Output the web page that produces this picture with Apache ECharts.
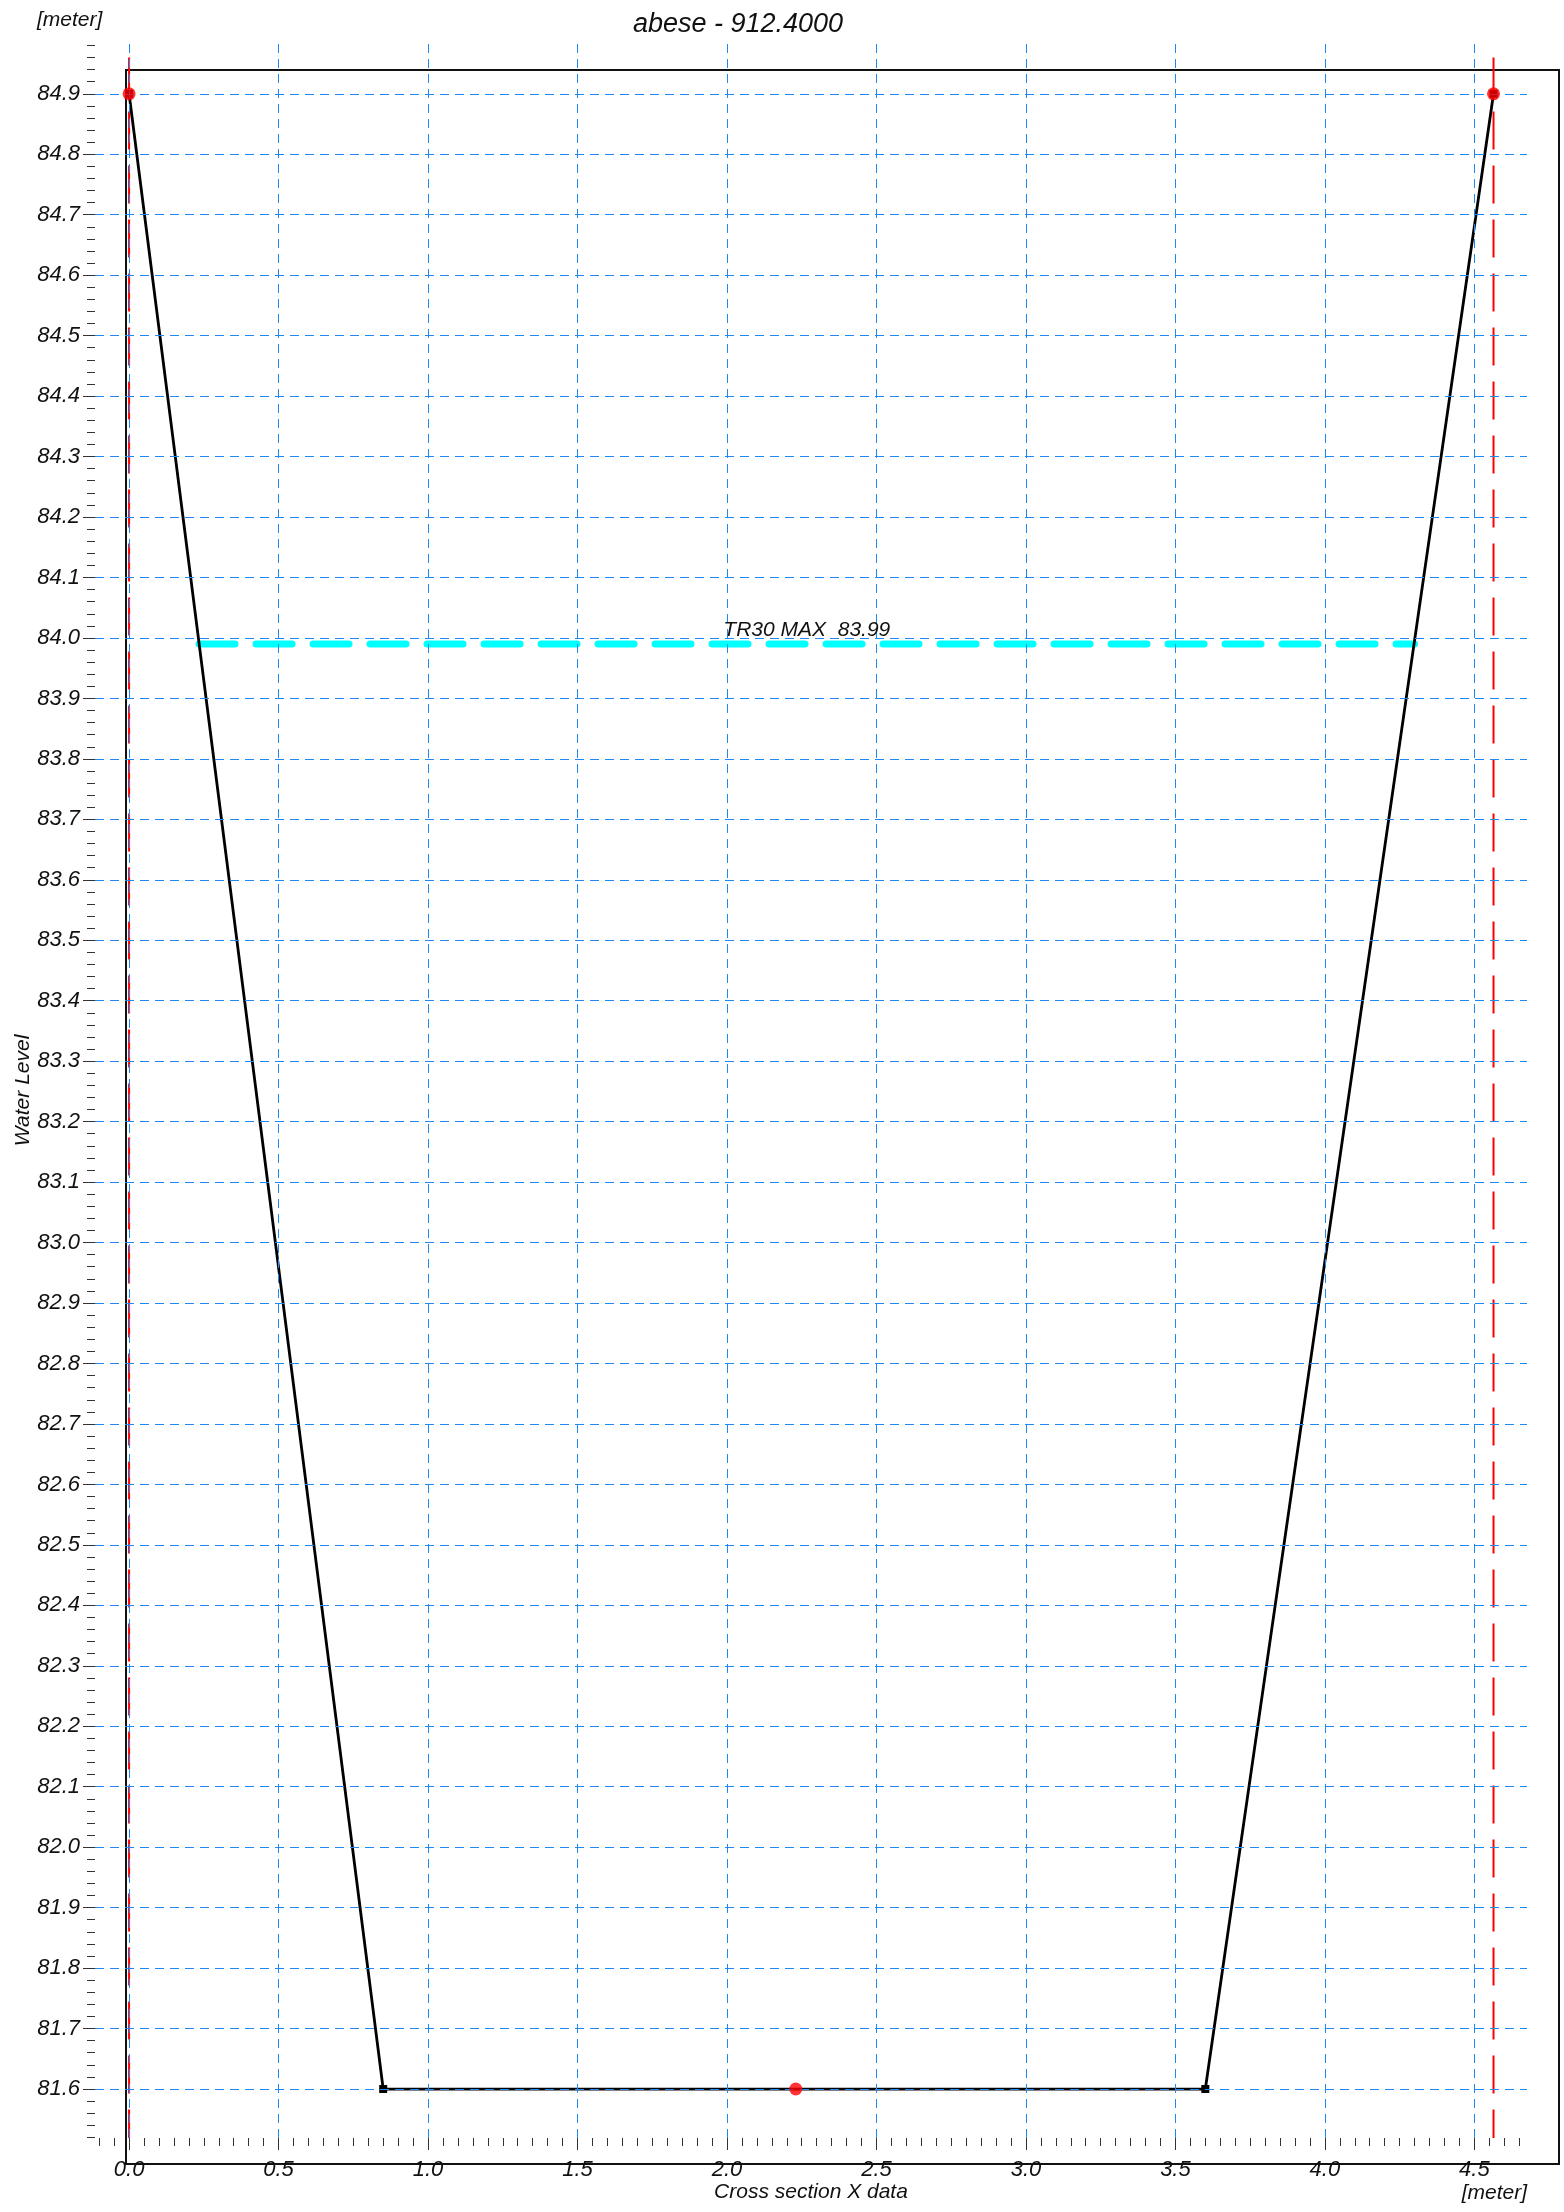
<!DOCTYPE html>
<html>
<head>
<meta charset="utf-8">
<title>abese - 912.4000</title>
<script src="https://cdn.jsdelivr.net/npm/echarts@6/dist/echarts.min.js"></script>
<style>
    html, body { margin: 0; padding: 0; background: #fff; }
    #main { width: 1564px; height: 2212px; }
</style>
</head>
<body>
<div id="main"></div>
<script>
// 断面数据
const profileX = [0, 0.85, 3.60, 4.564];
const profileY = [84.9, 81.6, 81.6, 84.9];

// 红点：左岸、最低点、右岸
const markerX = [0, 2.23, 4.564];
const markerY = [84.9, 81.6, 84.9];

// 岸线（红色虚线）
const bankX = [0, 4.564];
const bankTop = 84.96;

// 水位
const waterLevel = 83.99;
const waterX = [0.234, 4.30];
const waterLabel = 'TR30 MAX  83.99';

// 坐标轴范围与刻度
const xMin = -0.114, xMax = 4.676;
const yMin = 81.519, yMax = 84.984;
const xMajorTicks = [0, 0.5, 1.0, 1.5, 2.0, 2.5, 3.0, 3.5, 4.0, 4.5];
const yMajorTicks = [81.6, 81.7, 81.8, 81.9, 82.0, 82.1, 82.2, 82.3, 82.4, 82.5, 82.6,
    82.7, 82.8, 82.9, 83.0, 83.1, 83.2, 83.3, 83.4, 83.5, 83.6, 83.7, 83.8, 83.9,
    84.0, 84.1, 84.2, 84.3, 84.4, 84.5, 84.6, 84.7, 84.8, 84.9];

// 小刻度
const xMinorTicks = [];
for (let i = -2; i <= 93; i++) xMinorTicks.push(+(i * 0.05).toFixed(2));
const yMinorTicks = [];
for (let i = 4076; i <= 4249; i++) yMinorTicks.push(+(i * 0.02).toFixed(2));

const FONT = 'Liberation Sans';
const labelStyle = { fontFamily: FONT, fontStyle: 'italic', fontSize: 22, color: '#111' };
const gridLine = { color: '#1E88F5', width: 1, type: [9, 6] };

const chart = echarts.init(document.getElementById('main'));

const series = [];

// 网格线
series.push({
    type: 'line',
    data: [],
    z: 1,
    silent: true,
    markLine: {
        silent: true,
        symbol: 'none',
        animation: false,
        label: { show: false },
        lineStyle: gridLine,
        emphasis: { disabled: true },
        data: yMajorTicks.map(v => ({ yAxis: v })).concat(xMajorTicks.map(v => ({ xAxis: v })))
    }
});

// 岸线
bankX.forEach(x => {
    series.push({
        type: 'line',
        data: [[x, bankTop], [x, yMin]],
        symbol: 'none',
        z: 3,
        silent: true,
        lineStyle: { color: '#ff0000', width: 2, type: [38, 16] }
    });
});

// 水位线
series.push({
    type: 'line',
    data: waterX.map(x => [x, waterLevel]),
    symbol: 'none',
    z: 3,
    silent: true,
    lineStyle: { color: '#00ffff', width: 7, type: [36, 21], cap: 'round' },
    markLine: {
        silent: true,
        symbol: 'none',
        animation: false,
        lineStyle: { color: 'rgba(0,0,0,0)', width: 1, type: 'solid' },
        label: {
            show: true,
            position: 'insideMiddleTop',
            distance: 3,
            formatter: waterLabel,
            fontFamily: FONT,
            fontStyle: 'italic',
            fontSize: 21,
            color: '#111'
        },
        data: [[{ coord: [waterX[0], waterLevel] }, { coord: [waterX[1], waterLevel] }]]
    }
});

// 断面
series.push({
    type: 'line',
    data: profileX.map((x, i) => [x, profileY[i]]),
    symbol: 'rect',
    symbolSize: 8,
    showAllSymbol: true,
    z: 4,
    silent: true,
    itemStyle: { color: '#000' },
    lineStyle: { color: '#000', width: 2.8 }
});

// 红点
series.push({
    type: 'scatter',
    data: markerX.map((x, i) => [x, markerY[i]]),
    symbolSize: 13,
    z: 5,
    silent: true,
    itemStyle: { color: '#ff0000' }
});

const option = {
    animation: false,
    backgroundColor: '#fff',
    grid: { left: 95, right: 37, top: 43, bottom: 74, containLabel: false, outerBoundsMode: 'none' },
    xAxis: [
        {
            type: 'value', min: xMin, max: xMax, position: 'bottom',
            axisLine: { show: false, onZero: false },
            axisTick: { show: true, customValues: xMinorTicks, length: 8, lineStyle: { color: '#333' } },
            axisLabel: { show: false },
            splitLine: { show: false }
        },
        {
            type: 'value', min: xMin, max: xMax, position: 'bottom',
            axisLine: { show: false, onZero: false },
            axisTick: { show: true, customValues: xMajorTicks, length: 12, lineStyle: { color: '#333' } },
            axisLabel: Object.assign({ customValues: xMajorTicks, margin: 21, formatter: v => v.toFixed(1) }, labelStyle),
            splitLine: { show: false },
            name: 'Cross section X data',
            nameLocation: 'middle',
            nameGap: 44,
            nameMoveOverlap: false,
            nameTextStyle: { fontFamily: FONT, fontStyle: 'italic', fontSize: 21, color: '#111' }
        }
    ],
    yAxis: [
        {
            type: 'value', min: yMin, max: yMax, position: 'left',
            axisLine: { show: false, onZero: false },
            axisTick: { show: true, customValues: yMinorTicks, length: 8, lineStyle: { color: '#333' } },
            axisLabel: { show: false },
            splitLine: { show: false }
        },
        {
            type: 'value', min: yMin, max: yMax, position: 'left',
            axisLine: { show: false, onZero: false },
            axisTick: { show: true, customValues: yMajorTicks, length: 12, lineStyle: { color: '#333' } },
            axisLabel: Object.assign({ customValues: yMajorTicks, margin: 15, formatter: v => v.toFixed(1) }, labelStyle),
            splitLine: { show: false },
            name: 'Water Level',
            nameLocation: 'middle',
            nameRotate: 90,
            nameGap: 61,
            nameMoveOverlap: false,
            nameTextStyle: { fontFamily: FONT, fontStyle: 'italic', fontSize: 21, color: '#111' }
        }
    ],
    graphic: [
        {
            type: 'rect', z: 0, silent: true,
            shape: { x: 126, y: 70, width: 1433, height: 2094 },
            style: { fill: 'none', stroke: '#111', lineWidth: 2 }
        },
        {
            type: 'text', silent: true,
            style: { x: 738, y: 24, text: 'abese - 912.4000', align: 'center', verticalAlign: 'middle',
                font: 'italic 27px "Liberation Sans"', fill: '#111' }
        },
        {
            type: 'text', silent: true,
            style: { x: 37, y: 20, text: '[meter]', align: 'left', verticalAlign: 'middle',
                font: 'italic 21px "Liberation Sans"', fill: '#111' }
        },
        {
            type: 'text', silent: true,
            style: { x: 1527, y: 2193, text: '[meter]', align: 'right', verticalAlign: 'middle',
                font: 'italic 21px "Liberation Sans"', fill: '#111' }
        }
    ],
    series: series
};

chart.setOption(option);
</script>
</body>
</html>
